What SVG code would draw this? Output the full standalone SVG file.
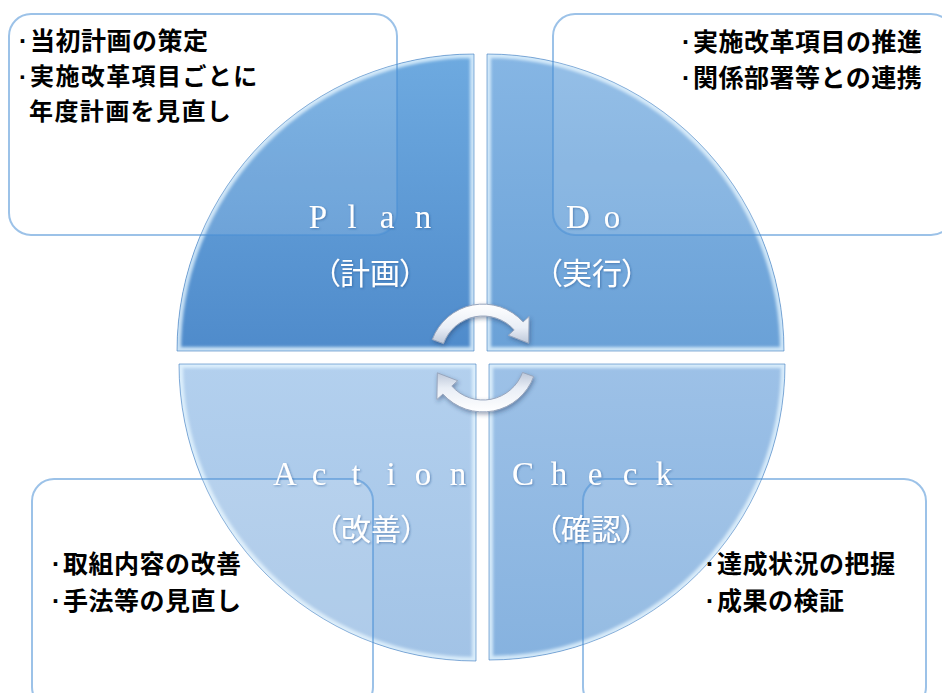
<svg xmlns="http://www.w3.org/2000/svg" width="942" height="693" viewBox="0 0 942 693">
<defs>
<style>
.box{fill:#ffffff;fill-opacity:0.12;stroke:#4a8fd6;stroke-opacity:0.55;stroke-width:2}
.bt{font-family:"Noto Sans CJK JP","Noto Sans CJK SC",sans-serif;font-weight:bold;font-size:25px;fill:#000;letter-spacing:0.5px}
.bt2{font-size:24px;letter-spacing:1.4px}
.dot{font-family:"Liberation Sans",sans-serif;font-weight:bold}
.lat{font-family:"Liberation Serif",serif;font-size:33px;fill:#fff;text-anchor:middle}
.jp{font-family:"Noto Sans CJK JP","Noto Sans CJK SC",sans-serif;font-size:30px;fill:#fff;text-anchor:middle;font-feature-settings:"palt"}
.bevel{fill:none;stroke:#e6f6ff;stroke-width:8;stroke-opacity:0.8}
.edge{fill:none;stroke:#3d7cc0;stroke-width:1;stroke-opacity:0.6}
.arr{fill:url(#gArr);stroke:#97a5bd;stroke-width:1}
</style>
<linearGradient id="gPlan" x1="0" y1="0" x2="0" y2="1"><stop offset="0" stop-color="#6eaae0"/><stop offset="1" stop-color="#4f8bcb"/></linearGradient>
<linearGradient id="gDo" x1="0" y1="0" x2="0" y2="1"><stop offset="0" stop-color="#86b6e4"/><stop offset="1" stop-color="#6aa1d7"/></linearGradient>
<linearGradient id="gAct" x1="0" y1="0" x2="0" y2="1"><stop offset="0" stop-color="#b3d0ee"/><stop offset="1" stop-color="#a2c3e6"/></linearGradient>
<linearGradient id="gChk" x1="0" y1="0" x2="0" y2="1"><stop offset="0" stop-color="#9dc1e7"/><stop offset="1" stop-color="#86b2df"/></linearGradient>
<linearGradient id="gArr" x1="0" y1="0" x2="0" y2="1"><stop offset="0" stop-color="#ffffff"/><stop offset="0.6" stop-color="#e9eef6"/><stop offset="1" stop-color="#bcc7d9"/></linearGradient>
<clipPath id="cPlan"><path id="pPlan" d="M474 351 L177 351 A297 297 0 0 1 474 54 Z"/></clipPath>
<clipPath id="cDo"><path id="pDo" d="M487 351 L487 54 A297 297 0 0 1 784 351 Z"/></clipPath>
<clipPath id="cAct"><path id="pAct" d="M476 364 L476 661 A297 297 0 0 1 179 364 Z"/></clipPath>
<clipPath id="cChk"><path id="pChk" d="M489 364 L785 364 A296 296 0 0 1 489 660 Z"/></clipPath>
<filter id="blur" x="-5%" y="-5%" width="110%" height="110%"><feGaussianBlur stdDeviation="1.5"/></filter>
<filter id="sh" x="-20%" y="-20%" width="140%" height="140%"><feDropShadow dx="1" dy="2" stdDeviation="2" flood-color="#203a60" flood-opacity="0.45"/></filter>
<filter id="tsh" x="-10%" y="-10%" width="120%" height="130%"><feDropShadow dx="1" dy="1" stdDeviation="0.8" flood-color="#1d4f8a" flood-opacity="0.5"/></filter>
</defs>
<rect width="942" height="693" fill="#ffffff"/>

<g id="plan">
<use href="#pPlan" fill="url(#gPlan)"/>
<g clip-path="url(#cPlan)"><use href="#pPlan" class="bevel" filter="url(#blur)"/></g>
<use href="#pPlan" class="edge"/>
</g>
<g id="do">
<use href="#pDo" fill="url(#gDo)"/>
<g clip-path="url(#cDo)"><use href="#pDo" class="bevel" filter="url(#blur)"/></g>
<use href="#pDo" class="edge"/>
</g>
<g id="action">
<use href="#pAct" fill="url(#gAct)"/>
<g clip-path="url(#cAct)"><use href="#pAct" class="bevel" filter="url(#blur)"/></g>
<use href="#pAct" class="edge"/>
</g>
<g id="check">
<use href="#pChk" fill="url(#gChk)"/>
<g clip-path="url(#cChk)"><use href="#pChk" class="bevel" filter="url(#blur)"/></g>
<use href="#pChk" class="edge"/>
</g>

<g id="connectors" filter="url(#sh)">
<path class="arr" d="M432.3 339.5 A54 54 0 0 1 523.1 321.9 L529.1 316.5 L528.7 343.2 L508.3 335.3 L514.2 329.9 A42 42 0 0 0 443.5 343.6 Z"/>
<path class="arr" transform="rotate(180 483 358)" d="M432.3 339.5 A54 54 0 0 1 523.1 321.9 L529.1 316.5 L528.7 343.2 L508.3 335.3 L514.2 329.9 A42 42 0 0 0 443.5 343.6 Z"/>
</g>

<g id="box-plan">
<rect class="box" x="9" y="14" width="388" height="221" rx="22"/>
<text class="bt" x="19" y="50"><tspan class="dot">·</tspan><tspan x="30">当初計画の策定</tspan></text>
<text class="bt bt2" x="19" y="85"><tspan class="dot">·</tspan><tspan x="30">実施改革項目ごとに</tspan></text>
<text class="bt bt2" x="29" y="120">年度計画を見直し</text>
</g>
<g id="box-do">
<rect class="box" x="553" y="14" width="400" height="221" rx="22"/>
<text class="bt" x="682" y="51" letter-spacing="1"><tspan class="dot">·</tspan><tspan x="693">実施改革項目の推進</tspan></text>
<text class="bt" x="682" y="87" letter-spacing="0.3"><tspan class="dot">·</tspan><tspan x="693">関係部署等との連携</tspan></text>
</g>
<g id="box-action">
<rect class="box" x="32" y="479" width="341" height="230" rx="22"/>
<text class="bt" x="52" y="573"><tspan class="dot">·</tspan><tspan x="63">取組内容の改善</tspan></text>
<text class="bt" x="52" y="610"><tspan class="dot">·</tspan><tspan x="63">手法等の見直し</tspan></text>
</g>
<g id="box-check">
<rect class="box" x="583" y="479" width="343" height="230" rx="22"/>
<text class="bt" x="706" y="573"><tspan class="dot">·</tspan><tspan x="717">達成状況の把握</tspan></text>
<text class="bt" x="706" y="610"><tspan class="dot">·</tspan><tspan x="717">成果の検証</tspan></text>
</g>

<g id="labels" filter="url(#tsh)">
<text class="lat" y="228"><tspan x="318">P</tspan><tspan x="352">l</tspan><tspan x="387">a</tspan><tspan x="423">n</tspan></text>
<text class="jp" x="370" y="284">（計画）</text>
<text class="lat" y="228"><tspan x="578">D</tspan><tspan x="612">o</tspan></text>
<text class="jp" x="592" y="284">（実行）</text>
<text class="lat" y="485"><tspan x="285">A</tspan><tspan x="319">c</tspan><tspan x="356">t</tspan><tspan x="391">i</tspan><tspan x="423">o</tspan><tspan x="458">n</tspan></text>
<text class="jp" x="371" y="540">（改善）</text>
<text class="lat" y="485"><tspan x="523">C</tspan><tspan x="559">h</tspan><tspan x="595">e</tspan><tspan x="630">c</tspan><tspan x="664">k</tspan></text>
<text class="jp" x="591" y="540">（確認）</text>
</g>
</svg>
